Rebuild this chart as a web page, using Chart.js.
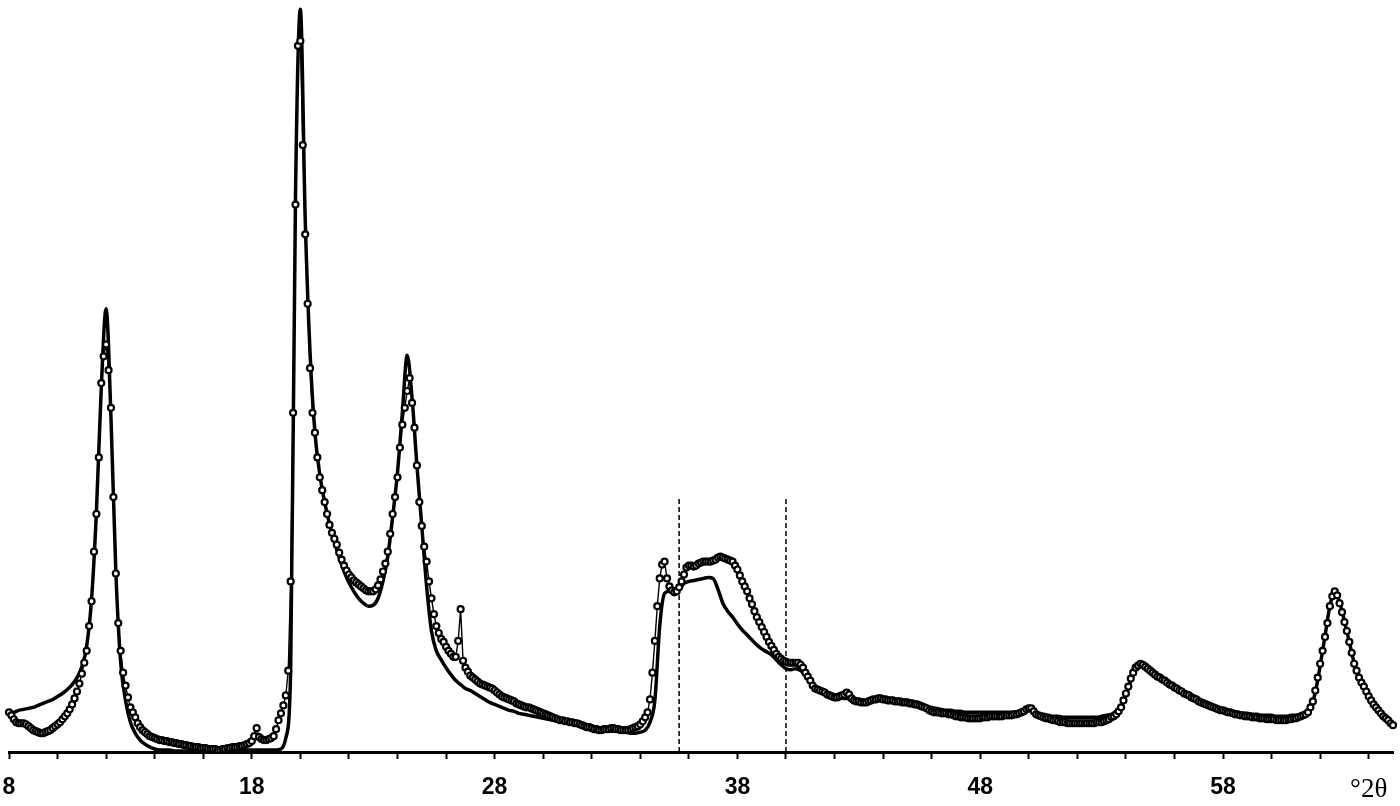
<!DOCTYPE html>
<html>
<head>
<meta charset="utf-8">
<script src="https://cdn.jsdelivr.net/npm/chart.js@4.4.1/dist/chart.umd.min.js"></script>
<style>
  html, body { margin: 0; padding: 0; background: #fff; }
  #xrd { display: block; }
</style>
</head>
<body>
<canvas id="xrd" width="1400" height="806"></canvas>
<script>
// 2-theta range of both patterns
const thetaStart = 8;

// measured pattern (circles), one value every 0.1 deg
const measuredStep = 0.1;
const measured = [
  40,37,33,30,29,29,29,28,26,24,
  22,21,20,19,19,20,21,22,24,26,
  28,30,33,36,39,43,48,54,61,69,
  79,90,102,127,152,202,240,297,372,399,
  411,385,347,257,180,130,102,80,67,55,
  45,40,35,29,25,22,20,18,16,15,
  14,13,12,12,11,11,10,10,9,9,
  8,8,7,7,6,6,5,5,5,4,
  4,4,3,3,3,3,2,2,3,3,
  4,4,5,5,5,6,6,7,8,9,
  11,16,24,15,13,12,12,13,14,16,
  23,32,39,47,57,82,172,342,552,712,
  717,612,522,452,387,342,322,297,277,264,
  252,240,229,221,215,209,201,194,188,183,
  179,176,173,171,169,167,165,163,162,162,
  162,164,168,174,182,190,202,220,240,257,
  277,307,330,347,364,377,352,327,289,252,
  228,207,192,172,155,139,127,120,114,111,
  106,102,99,96,96,112,144,92,85,81,
  77,75,73,71,69,68,67,66,65,64,
  62,60,58,56,55,54,53,52,51,49,
  48,47,46,45,45,44,43,42,41,40,
  39,38,37,36,35,34,33,32,32,31,
  31,30,30,29,29,28,27,26,25,25,
  24,23,23,22,22,23,23,23,24,24,
  23,23,22,22,22,22,23,24,25,26,
  28,31,35,40,53,80,112,147,175,189,
  192,175,167,163,161,162,166,172,179,186,
  188,188,187,188,190,191,192,192,192,192,
  193,194,196,197,196,195,194,193,192,188,
  184,178,172,167,162,155,149,142,136,131,
  126,121,116,111,107,103,99,96,94,92,
  91,90,90,90,90,90,88,85,80,76,
  72,67,64,63,62,61,60,58,57,56,
  55,55,56,57,58,60,58,54,52,51,
  51,50,50,50,51,52,53,53,54,54,
  53,53,52,52,52,51,51,51,50,50,
  50,49,49,48,48,47,46,45,44,42,
  41,40,40,40,39,39,39,38,38,37,
  36,36,35,35,35,34,34,34,34,34,
  34,35,35,35,36,36,36,36,36,36,
  37,37,37,37,38,38,39,40,41,43,
  44,44,41,38,37,36,35,34,34,33,
  32,32,31,30,30,30,29,29,29,29,
  29,29,29,29,29,29,29,29,30,30,
  30,31,32,33,35,36,38,41,45,52,
  59,66,74,80,85,87,89,88,86,84,
  82,80,78,76,75,73,72,70,68,67,
  65,64,62,61,59,58,57,55,54,53,
  51,50,49,48,47,46,45,44,43,42,
  42,41,40,40,39,38,38,37,37,36,
  36,36,35,35,35,34,34,34,33,33,
  33,33,32,32,32,32,32,33,33,34,
  34,35,36,37,38,40,45,51,62,75,
  89,102,116,130,147,157,162,158,150,141,
  131,122,111,100,89,82,75,70,66,61,
  56,52,48,45,42,39,36,34,32,29,
  27
];

// calculated pattern (solid line), one value every 0.2 deg
const calculatedStep = 0.2;
const calculated = [
  39,40,42,43,44,45,47,49,51,53,
  56,59,63,68,75,86,107,154,242,367,
  447,337,182,90,52,30,19,12,8,5,
  3,2,2,2,1,1,1,1,1,1,
  1,1,1,1,1,1,1,2,2,2,
  2,2,2,2,2,2,3,14,82,562,
  749,537,402,322,280,252,230,212,196,182,
  171,162,155,150,147,148,155,172,197,237,
  282,342,400,357,289,228,167,122,102,93,
  85,78,72,68,64,62,59,56,53,50,
  48,46,44,42,41,39,38,37,36,35,
  34,33,32,31,30,29,28,27,26,25,
  25,24,23,22,21,21,20,20,19,19,
  20,22,30,52,127,160,162,162,164,170,
  172,173,174,175,176,175,164,150,142,136,
  129,123,118,113,108,104,101,98,93,88,
  84,83,84,82,77,71,66,63,60,58,
  56,55,54,54,53,53,52,52,52,52,
  52,52,51,51,50,50,49,48,47,46,
  45,44,43,42,42,41,41,40,40,40,
  40,40,40,40,40,40,40,40,40,41,
  42,41,39,38,37,36,36,35,35,35,
  35,35,35,35,35,36,37,38,41,46,
  57,72,84,88,86,82,78,75,72,69,
  66,63,60,57,55,52,50,48,46,45,
  43,42,41,40,39,39,38,38,37,37,
  37,36,36,36,37,37,38,40,45,60,
  87,117,147,162,151,132,111,90,76,66,
  57,49,43,37,32,28
];

// dashed markers and axis labels
const dashedAt = [35.6, 40.0];
const dashedTop = 257;
const tickValues = [8, 18, 28, 38, 48, 58, 64];
const tickTexts = ['8', '18', '28', '38', '48', '58', '°2θ'];

const toPoints = (values, step) => values.map((v, i) => ({ x: thetaStart + i * step, y: v }));

const dashedSets = dashedAt.map(t => ({
  data: [{ x: t, y: 0 }, { x: t, y: dashedTop }],
  borderColor: '#000',
  borderWidth: 1.5,
  borderDash: [5, 3],
  pointRadius: 0,
  order: 2,
}));

new Chart(document.getElementById('xrd').getContext('2d'), {
  type: 'line',
  data: {
    datasets: [
      {
        label: 'measured',
        data: toPoints(measured, measuredStep),
        borderColor: '#000',
        borderWidth: 1.4,
        pointRadius: 3,
        pointBorderWidth: 2.2,
        pointBackgroundColor: '#fff',
        pointBorderColor: '#000',
        clip: false,
        order: 0,
      },
      {
        label: 'calculated',
        data: toPoints(calculated, calculatedStep),
        borderColor: '#000',
        borderWidth: 3.5,
        cubicInterpolationMode: 'monotone',
        pointRadius: 0,
        clip: false,
        order: 1,
      },
      ...dashedSets,
    ],
  },
  options: {
    responsive: false,
    animation: false,
    devicePixelRatio: 1,
    layout: { padding: { left: 9, right: 7, top: 0, bottom: 0 } },
    plugins: {
      legend: { display: false },
      tooltip: { enabled: false },
    },
    scales: {
      x: {
        type: 'linear',
        min: 8,
        max: 65,
        afterBuildTicks: axis => {
          axis.ticks = axis.ticks.filter(t => Math.abs(t.value % 2) < 1e-6);
        },
        afterFit: axis => {
          axis.height = 54;
          axis.paddingLeft = 0;
          axis.paddingRight = 0;
        },
        ticks: {
          stepSize: 2,
          includeBounds: false,
          autoSkip: false,
          maxRotation: 0,
          padding: 15,
          color: '#000',
          font: ctx => (ctx.tick && ctx.tick.value === 64)
            ? { family: '"Liberation Serif", "Times New Roman", serif', size: 27 }
            : { family: '"Liberation Sans", Arial, sans-serif', size: 23, weight: 'bold' },
          callback: v => {
            const i = tickValues.indexOf(v);
            return i >= 0 ? tickTexts[i] : '';
          },
        },
        grid: {
          display: true,
          drawOnChartArea: false,
          drawTicks: true,
          tickLength: 7,
          tickWidth: 2,
          tickColor: '#000',
        },
        border: { display: true, color: '#000', width: 3 },
      },
      y: {
        display: false,
        min: 0,
        max: 752,
      },
    },
  },
});
</script>
</body>
</html>
